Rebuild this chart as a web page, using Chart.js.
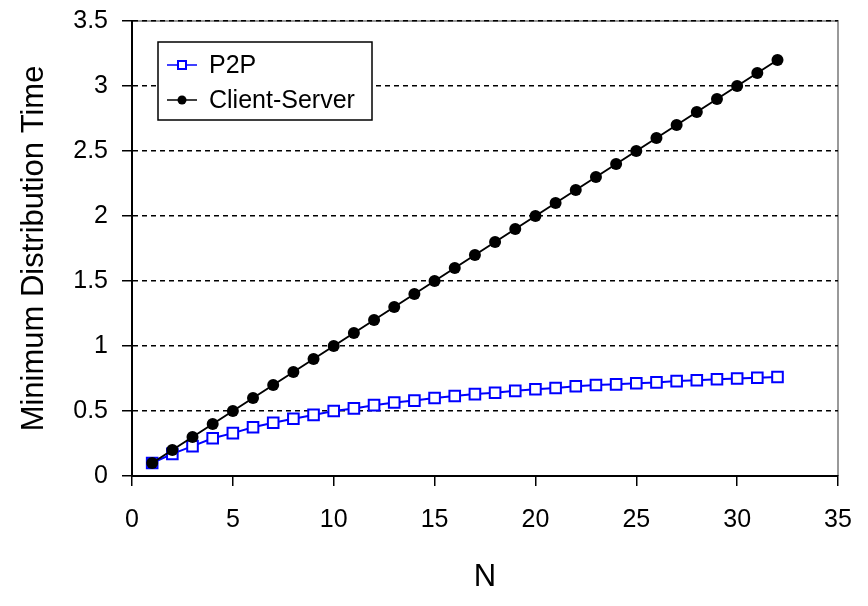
<!DOCTYPE html>
<html>
<head>
<meta charset="utf-8">
<script src="https://cdn.jsdelivr.net/npm/chart.js@4/dist/chart.umd.min.js"></script>
<style>
    body { margin: 0; background: #fff; }
    #wrap { width: 868px; height: 606px; }
</style>
</head>
<body>
<div id="wrap"><canvas id="chart" width="868" height="606"></canvas></div>
<script>
// Chart data
const nValues = [1, 2, 3, 4, 5, 6, 7, 8, 9, 10, 11, 12, 13, 14, 15, 16,
                 17, 18, 19, 20, 21, 22, 23, 24, 25, 26, 27, 28, 29, 30, 31, 32];
const p2pTimes = [0.10, 0.17, 0.23, 0.29, 0.33, 0.375, 0.41, 0.44, 0.47, 0.50, 0.52, 0.545,
                  0.565, 0.58, 0.60, 0.615, 0.63, 0.64, 0.655, 0.667, 0.677, 0.69, 0.70, 0.705,
                  0.714, 0.72, 0.73, 0.737, 0.744, 0.75, 0.756, 0.762];
const clientServerTimes = [0.1, 0.2, 0.3, 0.4, 0.5, 0.6, 0.7, 0.8, 0.9, 1.0, 1.1, 1.2,
                           1.3, 1.4, 1.5, 1.6, 1.7, 1.8, 1.9, 2.0, 2.1, 2.2, 2.3, 2.4,
                           2.5, 2.6, 2.7, 2.8, 2.9, 3.0, 3.1, 3.2];
const xTickValues = [0, 5, 10, 15, 20, 25, 30, 35];
const yTickValues = [0, 0.5, 1, 1.5, 2, 2.5, 3, 3.5];
const seriesNames = ['P2P', 'Client-Server'];
const xTitle = 'N';
const yTitle = 'Minimum Distribution Time';

const FONT = "'Liberation Sans', Arial, Helvetica, sans-serif";
Chart.defaults.font.family = FONT;
Chart.defaults.color = '#000';

// Gray frame on top and right of the plot area
const plotFrame = {
    id: 'plotFrame',
    beforeDraw(chart) {
        const { ctx, chartArea: a } = chart;
        ctx.save();
        ctx.strokeStyle = '#999';
        ctx.lineWidth = 2;
        ctx.beginPath();
        ctx.moveTo(a.left, a.top);
        ctx.lineTo(a.right, a.top);
        ctx.lineTo(a.right, a.bottom);
        ctx.stroke();
        ctx.restore();
    }
};

// Boxed legend inside the plot, top-left
const boxedLegend = {
    id: 'boxedLegend',
    afterDraw(chart) {
        const ctx = chart.ctx;
        const x = 158, y = 42, w = 214, h = 78;
        ctx.save();
        ctx.fillStyle = '#fff';
        ctx.fillRect(x, y, w, h);
        ctx.strokeStyle = '#000';
        ctx.lineWidth = 1.5;
        ctx.strokeRect(x, y, w, h);

        chart.data.datasets.forEach((ds, i) => {
            const cy = y + 23 + i * 35;
            ctx.strokeStyle = ds.borderColor;
            ctx.lineWidth = 1.5;
            ctx.beginPath();
            ctx.moveTo(167, cy);
            ctx.lineTo(197, cy);
            ctx.stroke();
            if (ds.pointStyle === 'rect') {
                ctx.fillStyle = '#fff';
                ctx.lineWidth = 2;
                ctx.fillRect(178, cy - 4, 8, 8);
                ctx.strokeRect(178, cy - 4, 8, 8);
            } else {
                ctx.fillStyle = ds.pointBackgroundColor;
                ctx.beginPath();
                ctx.arc(182, cy, 4.5, 0, Math.PI * 2);
                ctx.fill();
            }
            ctx.fillStyle = '#000';
            ctx.font = '25px ' + FONT;
            ctx.textBaseline = 'middle';
            ctx.textAlign = 'left';
            ctx.fillText(ds.label, 209, cy + 1);
        });
        ctx.restore();
    }
};

const toPoints = (ys) => nValues.map((n, i) => ({ x: n, y: ys[i] }));

new Chart(document.getElementById('chart'), {
    type: 'line',
    data: {
        datasets: [
            {
                label: seriesNames[0],
                data: toPoints(p2pTimes),
                borderColor: '#0000ff',
                borderWidth: 2,
                pointStyle: 'rect',
                pointRadius: 7.5,
                pointBorderWidth: 2,
                pointBorderColor: '#0000ff',
                pointBackgroundColor: '#fff',
                order: 1
            },
            {
                label: seriesNames[1],
                data: toPoints(clientServerTimes),
                borderColor: '#000',
                borderWidth: 2,
                pointStyle: 'circle',
                pointRadius: 6,
                pointBorderWidth: 0,
                pointBackgroundColor: '#000',
                order: 0
            }
        ]
    },
    options: {
        responsive: false,
        animation: false,
        layout: { padding: { left: 0, top: 21, right: 30, bottom: 0 } },
        plugins: {
            legend: { display: false },
            tooltip: { enabled: false }
        },
        scales: {
            x: {
                type: 'linear',
                min: 0,
                max: 35,
                afterBuildTicks: (s) => { s.ticks = xTickValues.map(v => ({ value: v })); },
                afterFit: (s) => { s.height = 130; s.paddingLeft = 0; s.paddingRight = 0; },
                grid: { drawOnChartArea: false, color: '#000', tickColor: '#000', tickLength: 10, lineWidth: 1.5 },
                border: { color: '#000', width: 2 },
                ticks: { font: { size: 25 }, padding: 19, maxRotation: 0, callback: (v) => String(v) },
                title: { display: true, text: xTitle, font: { size: 31 }, padding: { top: 0, bottom: 10 } }
            },
            y: {
                min: 0,
                max: 3.5,
                afterBuildTicks: (s) => { s.ticks = yTickValues.map(v => ({ value: v })); },
                afterFit: (s) => { s.width = 132; s.paddingTop = 0; s.paddingBottom = 0; },
                grid: {
                    color: (c) => (c.tick && c.tick.value === 0 ? 'rgba(0,0,0,0)' : '#000'),
                    tickColor: '#000',
                    tickLength: 10,
                    lineWidth: 1.5
                },
                border: { color: '#000', width: 2, dash: [5, 4] },
                ticks: { font: { size: 25 }, padding: 14, callback: (v) => String(v) },
                title: { display: true, text: yTitle, font: { size: 31 }, padding: { top: 16, bottom: 0 } }
            }
        }
    },
    plugins: [plotFrame, boxedLegend]
});
</script>
</body>
</html>
